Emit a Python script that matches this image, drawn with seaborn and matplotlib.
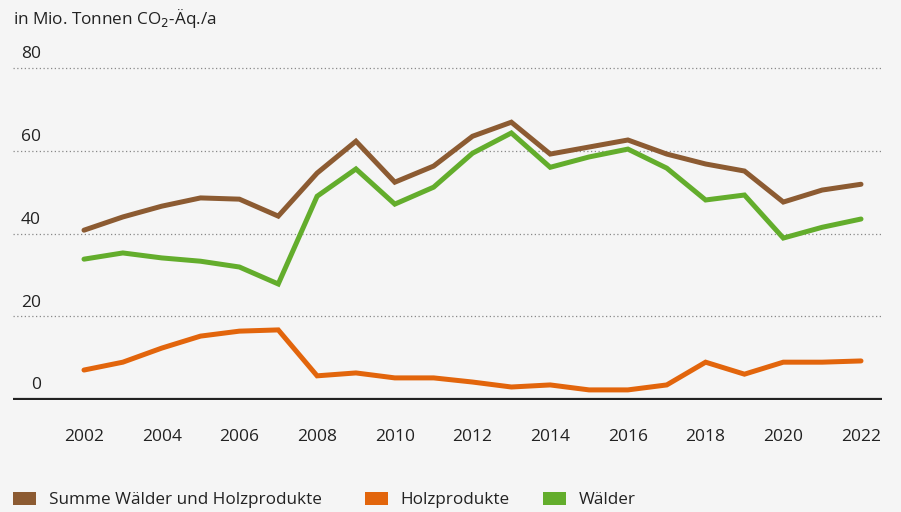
import matplotlib
matplotlib.use("Agg")
import matplotlib.pyplot as plt
import matplotlib.transforms as mtransforms
from matplotlib.patches import Patch
import seaborn as sns
import pandas as pd

years = list(range(2002, 2023))
summe = [40.8, 44.0, 46.6, 48.6, 48.3, 44.2, 54.6, 62.3, 52.4, 56.3, 63.5,
         66.9, 59.2, 60.9, 62.6, 59.2, 56.8, 55.1, 47.6, 50.5, 51.9]
holz = [7.0, 8.9, 12.3, 15.2, 16.4, 16.7, 5.6, 6.3, 5.1, 5.1, 4.1,
        2.9, 3.4, 2.2, 2.2, 3.4, 8.9, 6.0, 8.9, 8.9, 9.2]
waelder = [33.8, 35.3, 34.1, 33.3, 31.9, 27.8, 49.0, 55.6, 47.1, 51.2, 59.4,
           64.3, 56.0, 58.5, 60.4, 55.8, 48.1, 49.3, 38.9, 41.5, 43.5]
series_names = ["Summe Wälder und Holzprodukte", "Holzprodukte", "Wälder"]
colors = ["#8c5b32", "#e2650c", "#63ad2c"]
y_ticks = [0, 20, 40, 60, 80]
x_ticks = list(range(2002, 2023, 2))
title = "in Mio. Tonnen CO$_2$-Äq./a"

df = pd.concat([
    pd.DataFrame({"Jahr": years, "Wert": vals, "Reihe": name})
    for name, vals in zip(series_names, [summe, holz, waelder])
])

sns.set_theme(style="white")
plt.rcParams["font.family"] = ["Open Sans", "DejaVu Sans"]
bg = "#f5f5f5"
W, H = 901, 512
fig = plt.figure(figsize=(W / 100, H / 100), dpi=100, facecolor=bg)
ax = fig.add_axes([13 / W, 1 - 400 / H, (882 - 13) / W, (400 - 60) / H])
ax.set_facecolor(bg)

sns.lineplot(data=df, x="Jahr", y="Wert", hue="Reihe", hue_order=series_names,
             palette=colors, linewidth=3.6, ax=ax, legend=False,
             solid_capstyle="round", solid_joinstyle="miter")

px_per_unit = (399 - 68) / 80.0
ax.set_ylim(-1 / px_per_unit, 80 + 8 / px_per_unit)
ax.set_xlim(2002 - 71 / 38.85, 2022 + 21 / 38.85)

for v in y_ticks[1:]:
    ax.axhline(v, color="#888888", linestyle=(0, (1, 2)), linewidth=0.9, zorder=0)
ax.axhline(0, color="#222222", linewidth=1.6, zorder=1)

for s in ax.spines.values():
    s.set_visible(False)

ax.set_xticks(x_ticks)
ax.set_xticklabels([str(x) for x in x_ticks], fontsize=12.5, color="#222222")
ax.tick_params(axis="x", length=0, pad=21)
ax.set_yticks([])
ax.set_xlabel("")
ax.set_ylabel("")

trans = mtransforms.blended_transform_factory(fig.transFigure, ax.transData)
off = mtransforms.offset_copy(trans, fig=fig, x=0, y=4, units="points")
for v in y_ticks:
    ax.text(41 / W, v, str(v), transform=off, ha="right", va="bottom",
            fontsize=12.5, color="#222222")

fig.text(13 / W, 1 - 18 / H, title, ha="left", va="center", fontsize=12.3,
         color="#222222")

legend_x = [13, 365, 543]
for name, c, lx in zip(series_names, colors, legend_x):
    leg = fig.legend([Patch(facecolor=c, edgecolor="none")], [name],
                     loc="center left", bbox_to_anchor=(lx / W, 1 - 500 / H),
                     frameon=False, fontsize=12.3, handlelength=1.35,
                     handleheight=0.8, handletextpad=0.75, borderpad=0,
                     borderaxespad=0, labelcolor="#222222")

fig.savefig("out.png", dpi=100, facecolor=bg)
